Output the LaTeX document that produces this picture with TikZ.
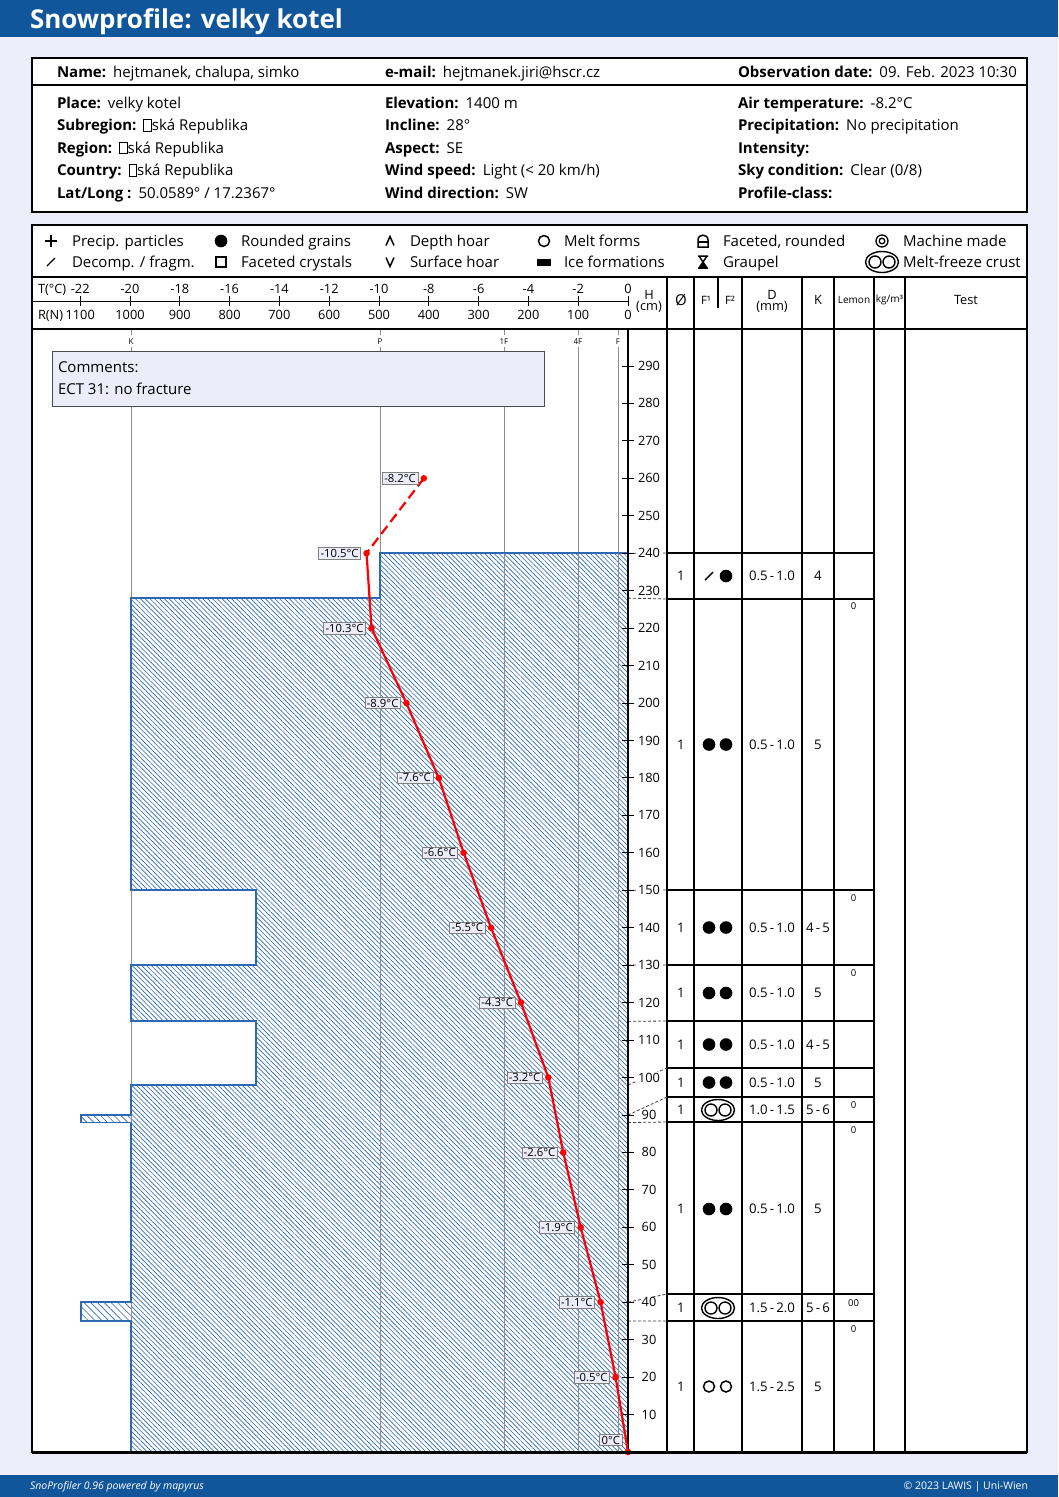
\documentclass[tikz,border=0pt]{standalone}
\usepackage{fontspec}
\setmainfont{Open Sans}
\usetikzlibrary{patterns.meta}
\definecolor{titleblue}{RGB}{17,86,155}
\definecolor{bglav}{RGB}{238,238,250}
\definecolor{hatchblue}{RGB}{45,105,178}
\definecolor{boxlav}{RGB}{236,236,250}
\definecolor{gridgray}{RGB}{140,140,140}
\newcommand\fsN{\fontsize{15}{17}\selectfont}
\newcommand\fsCell{\fontsize{13.2}{15}\selectfont}
\newcommand\fsTitle{\fontsize{26}{29}\selectfont}
\newcommand\fsNum{\fontsize{12.8}{14}\selectfont}
\newcommand\fsTl{\fontsize{11.3}{12}\selectfont}
\newcommand\fsXS{\fontsize{8.5}{10}\selectfont}
\newcommand\fsFoot{\fontsize{10.5}{12}\selectfont}
\newcommand\tofu{{\fboxsep=0pt\fboxrule=0.7pt\fbox{\vphantom{E}\hspace{7pt}}}}
\tikzset{
  pplus/.pic={\draw[line width=1.6] (-6,0)--(6,0) (0,-6)--(0,6);},
  pdecomp/.pic={\draw[line width=1.4] (-4,4)--(4,-4);},
  prounded/.pic={\fill (0,0) circle (6.3);},
  pfacet/.pic={\draw[line width=1.5] (-5,-5) rectangle (5,5);},
  pdepth/.pic={\draw[line width=1.5] (-4,4.5)--(0,-4.5)--(4,4.5);},
  psurf/.pic={\draw[line width=1.5] (-4,-4.5)--(0,4.5)--(4,-4.5);},
  pmelt/.pic={\draw[line width=1.5] (0,0) circle (5.5);},
  pice/.pic={\fill (-7,-3.5) rectangle (7,3.5);},
  pfacround/.pic={\draw[line width=1.5] (-5,6)--(-5,-1) .. controls (-5,-7.5) and (5,-7.5) .. (5,-1) -- (5,6) -- cycle; \draw[line width=1.5] (-5,1)--(5,1);},
  pgraupel/.pic={\draw[line width=1.5] (-5,-6)--(5,-6) (-4,-6)--(4,6) (4,-6)--(-4,6) (-5,6)--(5,6); \fill (0,0)--(-4,6)--(4,6)--cycle;},
  pmachine/.pic={\draw[line width=1.3] (0,0) circle (6) (0,0) circle (2.8);},
  pcrust/.pic={\draw[line width=1.4] (0,0) ellipse (16.5 and 10.5) (-7,0) circle (6) (7,0) circle (6);},
}
\begin{document}
\begin{tikzpicture}[x=1pt,y=-1pt,
  every node/.style={inner sep=0pt, outer sep=0pt},
  lab/.style={anchor=base west, font=\fsN\bfseries},
  val/.style={anchor=base west, font=\fsN},
  leg/.style={anchor=base west, font=\fsN},
  num/.style={anchor=base, font=\fsNum},
  hnum/.style={font=\fsNum, fill=white, inner sep=1pt},
  cell/.style={font=\fsCell},
  small/.style={font=\fsXS},
  tlabel/.style={font=\fsTl, draw=gray, fill=boxlav, inner xsep=2pt, inner ysep=1.5pt, anchor=east},
  frame/.style={line width=2pt},
  tline/.style={line width=1.5pt},
  gline/.style={draw=gridgray, line width=1pt},
  conn/.style={densely dashed, line width=0.8pt, draw=black!75},
  temp/.style={draw=red, line width=2.2pt},
]
\useasboundingbox (0,0) rectangle (1058,1497);
% background
\fill[bglav] (0,0) rectangle (1058,1497);
\fill[titleblue] (0,0) rectangle (1058,37);
\fill[titleblue] (0,1475) rectangle (1058,1497);
\node[anchor=base west, font=\fsTitle\bfseries, text=white] (title) at (30,28) {Snowprofile: velky kotel};
\node[anchor=base west, font=\fsFoot\itshape, text=white] (foot1) at (30,1489) {SnoProfiler 0.96 powered by mapyrus};
\node[anchor=base east, font=\fsFoot, text=white] (foot2) at (1028,1489) {© 2023 LAWIS | Uni-Wien};

% header box
\draw[frame, fill=white] (32,58) rectangle (1027,212);
\draw[tline] (32,85) -- (1027,85);
\node[lab] (l1) at (57,77) {Name:};
\node[val] (v1) at ([xshift=7pt]l1.base east) {hejtmanek, chalupa, simko};
\node[lab] (l2) at (385,77) {e-mail:};
\node[val] (v2) at ([xshift=7pt]l2.base east) {hejtmanek.jiri@hscr.cz};
\node[lab] (l3) at (738,77) {Observation date:};
\node[val] (v3) at ([xshift=7pt]l3.base east) {09. Feb. 2023 10:30};
% column A
\node[lab] (a1) at (57,108) {Place:};
\node[val] (va1) at ([xshift=7pt]a1.base east) {velky kotel};
\node[lab] (a2) at (57,130.5) {Subregion:};
\node[val] (va2) at ([xshift=7pt]a2.base east) {\tofu ská Republika};
\node[lab] (a3) at (57,153) {Region:};
\node[val] (va3) at ([xshift=7pt]a3.base east) {\tofu ská Republika};
\node[lab] (a4) at (57,175.5) {Country:};
\node[val] (va4) at ([xshift=7pt]a4.base east) {\tofu ská Republika};
\node[lab] (a5) at (57,198) {Lat/Long :};
\node[val] (va5) at ([xshift=7pt]a5.base east) {50.0589° / 17.2367°};
% column B
\node[lab] (b1) at (385,108) {Elevation:};
\node[val] (vb1) at ([xshift=7pt]b1.base east) {1400 m};
\node[lab] (b2) at (385,130.5) {Incline:};
\node[val] (vb2) at ([xshift=7pt]b2.base east) {28°};
\node[lab] (b3) at (385,153) {Aspect:};
\node[val] (vb3) at ([xshift=7pt]b3.base east) {SE};
\node[lab] (b4) at (385,175.5) {Wind speed:};
\node[val] (vb4) at ([xshift=7pt]b4.base east) {Light (< 20 km/h)};
\node[lab] (b5) at (385,198) {Wind direction:};
\node[val] (vb5) at ([xshift=7pt]b5.base east) {SW};
% column C
\node[lab] (c1) at (738,108) {Air temperature:};
\node[val] (vc1) at ([xshift=7pt]c1.base east) {-8.2°C};
\node[lab] (c2) at (738,130.5) {Precipitation:};
\node[val] (vc2) at ([xshift=7pt]c2.base east) {No precipitation};
\node[lab] (c3) at (738,153) {Intensity:};
\node[lab] (c4) at (738,175.5) {Sky condition:};
\node[val] (vc4) at ([xshift=7pt]c4.base east) {Clear (0/8)};
\node[lab] (c5) at (738,198) {Profile-class:};

% main box
\fill[white] (32,225) rectangle (1027,1452);

% hatched profile
\path[pattern={Lines[angle=-45,distance=3.4pt,line width=0.65pt]}, pattern color=hatchblue]
  (628,553) -- (380,553) -- (380,598) -- (131,598) -- (131,890) -- (256,890) -- (256,965) -- (131,965)
  -- (131,1021) -- (256,1021) -- (256,1085) -- (131,1085) -- (131,1452) -- (628,1452) -- cycle;
\path[pattern={Lines[angle=-45,distance=4.8pt,line width=0.65pt]}, pattern color=hatchblue]
  (81,1115) rectangle (131,1122.5) (81,1302) rectangle (131,1321);

% hardness grid
\foreach \xx/\hh [count=\k] in {131/K,380/P,504/1F,578/4F,618/F} {
  \draw[gline] (\xx,329) -- (\xx,335);
  \node[small, font=\fontsize{8}{9}\selectfont] (hd\k) at (\xx,341.5) {\hh};
  \draw[gline] (\xx,347) -- (\xx,1452);
}

% profile outline
\draw[hatchblue, line width=1.2pt]
  (628,553) -- (380,553) -- (380,598) -- (131,598) -- (131,890) -- (256,890) -- (256,965) -- (131,965)
  -- (131,1021) -- (256,1021) -- (256,1085) -- (131,1085) -- (131,1115) -- (81,1115) -- (81,1122.5) -- (131,1122.5)
  -- (131,1302) -- (81,1302) -- (81,1321) -- (131,1321) -- (131,1452);

% comments
\draw[fill=boxlav, draw=black!70, line width=1pt] (52,351) rectangle (544,406);
\node[val] (cm1) at (58,372) {Comments:};
\node[val] (cm2) at (58,394) {ECT 31: no fracture};

% legend
\draw[tline] (32,277) -- (1027,277);
\foreach \px/\py/\pn [count=\k] in {51/241/pplus,51/262/pdecomp,221/241/prounded,221/262/pfacet,390/241/pdepth,390/262/psurf,544/241/pmelt,544/262/pice,703/241/pfacround,703/262/pgraupel,882/241/pmachine,882/262/pcrust}
  \pic (sym\k) at (\px,\py) {\pn};
\node[leg] (g1) at (72,246) {Precip. particles};
\node[leg] (g2) at (72,267) {Decomp. / fragm.};
\node[leg] (g3) at (241,246) {Rounded grains};
\node[leg] (g4) at (241,267) {Faceted crystals};
\node[leg] (g5) at (410,246) {Depth hoar};
\node[leg] (g6) at (410,267) {Surface hoar};
\node[leg] (g7) at (564,246) {Melt forms};
\node[leg] (g8) at (564,267) {Ice formations};
\node[leg] (g9) at (723,246) {Faceted, rounded};
\node[leg] (g10) at (723,267) {Graupel};
\node[leg] (g11) at (903,246) {Machine made};
\node[leg] (g12) at (903,267) {Melt-freeze crust};

% scale header
\draw[line width=1pt] (32,301) -- (628,301);
\node[anchor=base west, font=\fsNum] (tc) at (38,293) {T(°C)};
\node[anchor=base west, font=\fsNum] (rn) at (38,319) {R(N)};
\foreach \t [count=\k] in {-22,-20,...,0} {
  \pgfmathsetmacro\xx{628+\t*24.9}
  \pgfmathtruncatemacro\rr{-50*\t}
  \draw[line width=0.9pt] (\xx,296) -- (\xx,306);
  \node[num] (tv\k) at (\xx,293) {\t};
  \node[num] (rv\k) at (\xx,319) {\rr};
}
\node[font=\fsNum] (hh1) at (649,295) {H};
\node[font=\fsNum] (hh2) at (649,307) {(cm)};
\node[font=\fsN] (ch1) at (681,300) {Ø};
\node[font=\fontsize{11.5}{12}\selectfont] (ch2) at (706,300) {F¹};
\node[font=\fontsize{11.5}{12}\selectfont] (ch3) at (730,300) {F²};
\draw[line width=1.2pt] (718,277) -- (718,308);
\node[font=\fsNum] (ch4) at (772,295) {D};
\node[font=\fsNum] (ch5) at (772,307) {(mm)};
\node[font=\fsNum] (ch6) at (818,300) {K};
\node[font=\fontsize{10}{11}\selectfont] (ch7) at (854,300) {Lemon};
\node[font=\fontsize{10}{11}\selectfont] (ch8) at (889.5,300) {kg/m³};
\node[font=\fsNum] (ch9) at (966,300) {Test};
\draw[frame] (32,329) -- (1027,329);

% table lines
\foreach \xx in {667,694,742,802,834,874,905} \draw[tline] (\xx,277) -- (\xx,1452);
\foreach \yy in {553,599,890,965,1021,1068,1097,1122,1294,1321} \draw[tline] (667,\yy) -- (874,\yy);

% height axis labels
\foreach \h in {10,20,...,290} {
  \pgfmathsetmacro\yy{1452-\h*3.745}
  \coordinate (ht\h) at (628,\yy);
}
% connectors layer -> table
\foreach \a/\b [count=\k] in {553.2/553,598.1/599,890.2/890,965.1/965,1021.3/1021,1085/1068,1115/1097,1122.5/1122,1302.2/1294,1320.9/1321} {
  \coordinate (ca\k) at (628,\a);
  \coordinate (cb\k) at (667,\b);
  \draw[conn] (ca\k) -- (cb\k);
}
\foreach \h in {10,20,...,290} {
  \draw[line width=0.9pt] ([xshift=-6pt]ht\h) -- ([xshift=6pt]ht\h);
  \node[hnum] (hl\h) at ([xshift=21pt]ht\h) {\h};
}
\draw[line width=2.5pt] (628,329) -- (628,1452);

% table contents
\foreach \yc/\fa/\fb/\dd/\kk [count=\k] in {576/pdecomp/prounded/0.5\,-\,1.0/4, 744.5/prounded/prounded/0.5\,-\,1.0/5, 927.5/prounded/prounded/0.5\,-\,1.0/4\,-\,5, 993/prounded/prounded/0.5\,-\,1.0/5, 1044.5/prounded/prounded/0.5\,-\,1.0/4\,-\,5, 1082.5/prounded/prounded/0.5\,-\,1.0/5, 1209/prounded/prounded/0.5\,-\,1.0/5} {
  \node[cell] (ro\k) at (681,\yc) {1};
  \pic (fa\k) at (709,\yc) {\fa};
  \pic (fb\k) at (726,\yc) {\fb};
  \node[cell] (rd\k) at (772,\yc) {\dd};
  \node[cell] (rk\k) at (818,\yc) {\kk};
}
\node[cell] (ro8) at (681,1110) {1};
\pic (cr8) at (718,1110) {pcrust};
\node[cell] (rd8) at (772,1110) {1.0\,-\,1.5};
\node[cell] (rk8) at (818,1110) {5\,-\,6};
\node[cell] (ro9) at (681,1308) {1};
\pic (cr9) at (718,1308) {pcrust};
\node[cell] (rd9) at (772,1308) {1.5\,-\,2.0};
\node[cell] (rk9) at (818,1308) {5\,-\,6};
\node[cell] (ro10) at (681,1386.5) {1};
\pic (fa10) at (709,1386.5) {pmelt};
\pic (fb10) at (726,1386.5) {pmelt};
\node[cell] (rd10) at (772,1386.5) {1.5\,-\,2.5};
\node[cell] (rk10) at (818,1386.5) {5};
\foreach \yy/\tx [count=\k] in {606/0,898/0,973/0,1105/0,1130/0,1303/00,1329/0}
  \node[small, font=\fontsize{9.5}{10}\selectfont] (lm\k) at (853.5,\yy) {\tx};

% temperature profile
\foreach \n/\t/\h in {a/-8.2/260,b/-10.5/240,c/-10.3/220,d/-8.9/200,e/-7.6/180,f/-6.6/160,g/-5.5/140,h/-4.3/120,i/-3.2/100,j/-2.6/80,k/-1.9/60,l/-1.1/40,m/-0.5/20,n/0/0}
  \coordinate (T\n) at ({628+\t*24.9},{1452-\h*3.745});
\draw[temp, dash pattern=on 10pt off 5pt] (Ta) -- (Tb);
\draw[temp] (Tb) -- (Tc) -- (Td) -- (Te) -- (Tf) -- (Tg) -- (Th) -- (Ti) -- (Tj) -- (Tk) -- (Tl) -- (Tm) -- (Tn);
\foreach \n/\t in {a/-8.2,b/-10.5,c/-10.3,d/-8.9,e/-7.6,f/-6.6,g/-5.5,h/-4.3,i/-3.2,j/-2.6,k/-1.9,l/-1.1,m/-0.5} {
  \fill[red] (T\n) circle (3.3);
  \node[tlabel] (L\n) at ([xshift=-6pt]T\n) {\t°C};
}
\fill[red] (Tn) circle (3.3);
\node[tlabel] (Ln) at ([xshift=-6pt,yshift=12pt]Tn) {0°C};

% frames on top
\draw[frame] (32,225) rectangle (1027,1452);
\draw[line width=3pt] (32,1452) -- (1027,1452);
\end{tikzpicture}
\end{document}
